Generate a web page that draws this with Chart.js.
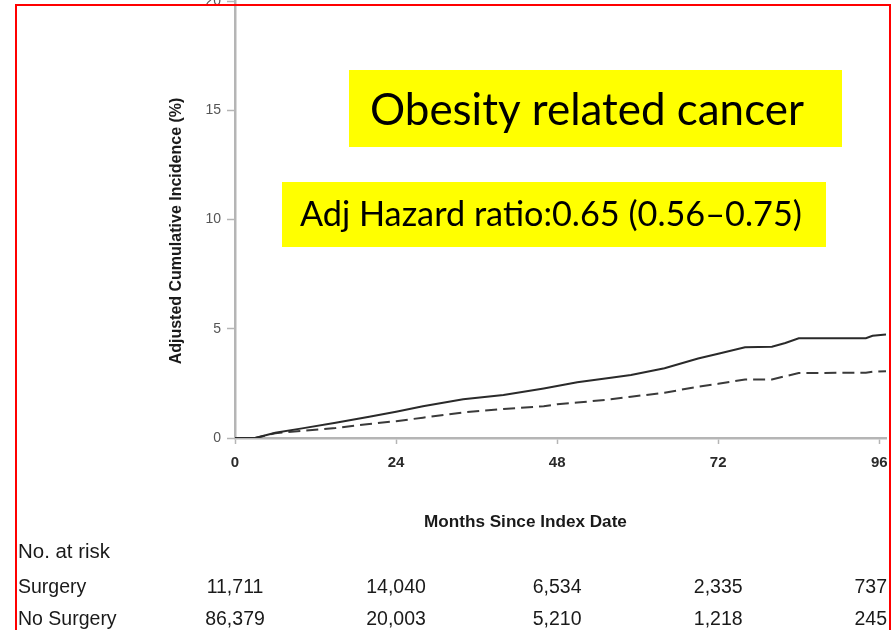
<!DOCTYPE html>
<html>
<head>
<meta charset="utf-8">
<title>Obesity related cancer</title>
<script src="https://cdn.jsdelivr.net/npm/chart.js@4/dist/chart.umd.min.js"></script>
<style>
  html, body { margin: 0; padding: 0; background: #ffffff; }
  body { width: 894px; height: 630px; position: relative; overflow: hidden; }
  #frame {
    position: absolute; left: 15px; top: 4px; width: 876px; height: 700px;
    border: 2px solid #ff0000; box-sizing: border-box; pointer-events: none;
  }
  #c { position: absolute; left: 0; top: 0; }
</style>
</head>
<body>
<canvas id="c" width="894" height="630"></canvas>
<div id="frame"></div>
<script>
// Follow-up time points (months since index date)
const months = [0, 3, 6, 10, 15, 20, 24, 28, 34, 40, 46, 48, 51, 56, 59, 64, 69, 72, 76, 80, 82, 84, 94, 95, 97];

// Adjusted cumulative incidence (%) of obesity related cancer
const noSurgery = [0, 0, 0.24, 0.44, 0.70, 0.97, 1.20, 1.45, 1.77, 1.97, 2.27, 2.38, 2.55, 2.76, 2.88, 3.19, 3.64, 3.86, 4.15, 4.18, 4.35, 4.56, 4.57, 4.68, 4.74];
const surgery   = [0, 0, 0.22, 0.33, 0.46, 0.64, 0.77, 0.93, 1.17, 1.33, 1.45, 1.55, 1.62, 1.77, 1.89, 2.07, 2.35, 2.48, 2.68, 2.68, 2.83, 2.97, 2.99, 3.03, 3.06];

// Axis ticks
const xTicks = [0, 24, 48, 72, 96];
const yTicks = [0, 5, 10, 15, 20];

// Number at risk table
const riskMonths = [0, 24, 48, 72, 96];
const riskSurgery   = ["11,711", "14,040", "6,534", "2,335", "737"];
const riskNoSurgery = ["86,379", "20,003", "5,210", "1,218", "245"];

// Text
const titleText = "Obesity related cancer";
const hazardText = "Adj Hazard ratio:0.65 (0.56\u20130.75)";
const yTitle = "Adjusted Cumulative Incidence (%)";
const xTitle = "Months Since Index Date";

const toPoints = (xs, ys) => xs.map((x, i) => ({ x: x, y: ys[i] }));

const SANS = "'Liberation Sans', Arial, sans-serif";

// Draw text whose font size is chosen so the text spans a given width
function fitText(ctx, text, weight, family, left, right, baseline, align) {
  ctx.font = weight + " 100px " + family;
  const w = ctx.measureText(text).width;
  const size = 100 * (right - left) / w;
  ctx.font = weight + " " + size.toFixed(2) + "px " + family;
  ctx.textBaseline = "alphabetic";
  ctx.textAlign = "left";
  ctx.fillText(text, left, baseline);
}

const annotations = {
  id: "annotations",
  afterDraw(chart) {
    const ctx = chart.ctx;
    const xs = chart.scales.x;
    ctx.save();
    ctx.fillStyle = "#1a1a1a";

    // Y axis title
    ctx.save();
    ctx.translate(177, 231);
    ctx.rotate(-Math.PI / 2);
    ctx.font = "bold 16px " + SANS;
    ctx.textAlign = "center";
    ctx.textBaseline = "middle";
    ctx.fillText(yTitle, 0, 0);
    ctx.restore();

    // X axis title
    fitText(ctx, xTitle, "bold", SANS, 424, 627, 527);

    // Number at risk
    ctx.fillStyle = "#1a1a1a";
    fitText(ctx, "No. at risk", "normal", SANS, 18, 110, 558);
    ctx.font = "19.5px " + SANS;
    ctx.textBaseline = "alphabetic";
    ctx.textAlign = "left";
    ctx.fillText("Surgery", 18, 593);
    ctx.fillText("No Surgery", 18, 625);
    riskMonths.forEach((m, i) => {
      const last = i === riskMonths.length - 1;
      const px = last ? chart.chartArea.right + 1 : xs.getPixelForValue(m);
      ctx.textAlign = last ? "right" : "center";
      ctx.fillText(riskSurgery[i], px, 593);
      ctx.fillText(riskNoSurgery[i], px, 625);
    });

    // Highlighted labels
    ctx.fillStyle = "#ffff00";
    ctx.fillRect(349, 70, 493, 77);
    ctx.fillRect(282, 182, 544, 65);
    ctx.fillStyle = "#000000";
    fitText(ctx, titleText, "normal", "Lato, 'Open Sans', sans-serif", 370, 804, 125);
    fitText(ctx, hazardText, "normal", "Lato, 'Open Sans', sans-serif", 300, 802, 226);

    ctx.restore();
  }
};

new Chart(document.getElementById("c"), {
  type: "line",
  data: {
    datasets: [
      {
        label: "No Surgery",
        data: toPoints(months, noSurgery),
        borderColor: "#2a2a2a",
        borderWidth: 2,
        pointRadius: 0,
        tension: 0,
        fill: false
      },
      {
        label: "Surgery",
        data: toPoints(months, surgery),
        borderColor: "#3a3a3a",
        borderWidth: 2,
        borderDash: [12, 6],
        pointRadius: 0,
        tension: 0,
        fill: false
      }
    ]
  },
  options: {
    responsive: false,
    animation: false,
    events: [],
    layout: { padding: { left: 195, top: 1, right: 8, bottom: 162 } },
    plugins: { legend: { display: false }, tooltip: { enabled: false }, title: { display: false } },
    scales: {
      x: {
        type: "linear",
        min: 0,
        max: 97,
        afterBuildTicks(scale) { scale.ticks = xTicks.map(v => ({ value: v })); },
        afterFit(scale) { scale.height = 30; scale.paddingLeft = 0; scale.paddingRight = 0; },
        border: { color: "#b5b5b5", width: 2.5 },
        grid: { drawOnChartArea: false, tickLength: 6, color: "#b5b5b5", tickWidth: 1.5 },
        ticks: {
          padding: 10,
          color: "#2a2a2a",
          font: { family: SANS, size: 15, weight: "bold" },
          maxRotation: 0,
          autoSkip: false
        }
      },
      y: {
        type: "linear",
        min: 0,
        max: 20,
        afterBuildTicks(scale) { scale.ticks = yTicks.map(v => ({ value: v })); },
        afterFit(scale) { scale.width = 40; scale.paddingTop = 0; scale.paddingBottom = 0; },
        border: { color: "#b5b5b5", width: 2.5 },
        grid: { drawOnChartArea: false, tickLength: 8, color: "#b5b5b5", tickWidth: 1.5 },
        ticks: {
          padding: 6,
          color: "#555555",
          font: { family: SANS, size: 14 },
          autoSkip: false
        }
      }
    }
  },
  plugins: [annotations]
});
</script>
</body>
</html>
